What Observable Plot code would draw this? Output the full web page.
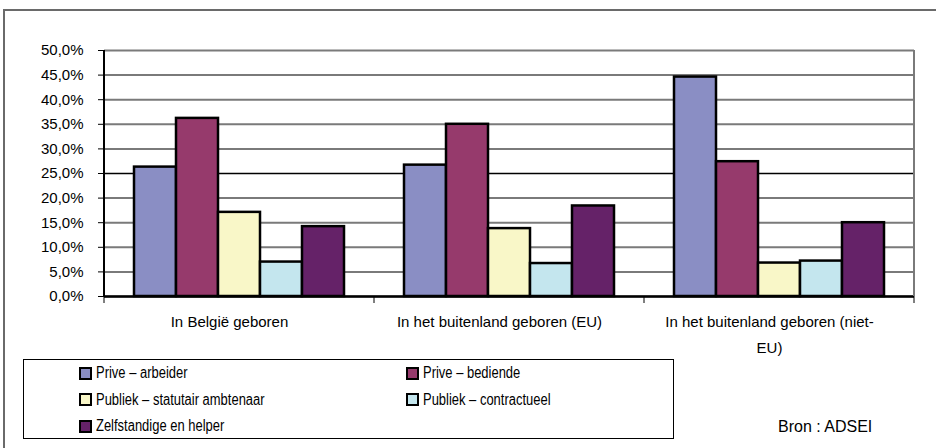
<!DOCTYPE html>
<html><head><meta charset="utf-8">
<script src="https://cdn.jsdelivr.net/npm/d3@7"></script>
<script src="https://cdn.jsdelivr.net/npm/@observablehq/plot@0.6"></script>
<style>
html,body{margin:0;padding:0;background:#fff;width:936px;height:448px;overflow:hidden;position:relative;font-family:"Liberation Sans",Arial,sans-serif;}
#frame{position:absolute;left:3px;top:9px;width:1000px;height:500px;border-left:2px solid #6a6a6a;border-top:2px solid #6a6a6a;}
#chart{position:absolute;left:0;top:0;}
#legend{position:absolute;left:23px;top:359px;width:651px;height:80px;border:1px solid #000;box-sizing:border-box;}
.item{position:absolute;height:20px;display:flex;align-items:center;font-family:"Liberation Sans",Arial,sans-serif;font-size:16px;color:#000;white-space:nowrap;}
.item .tx{display:inline-block;transform:scaleX(0.81);transform-origin:0 50%;}
.sw{width:9px;height:9px;border:2px solid #000;margin-right:4px;}
#bron{position:absolute;left:778px;top:417px;font-size:16px;line-height:20px;color:#000;}
</style></head><body>
<div id="frame"></div>
<div id="chart"></div>
<div id="legend"></div>
<div id="bron">Bron : ADSEI</div>
<script>
const categories = ["In België geboren", "In het buitenland geboren (EU)", "In het buitenland geboren (niet-EU)"];
const categoryLabels = ["In België geboren", "In het buitenland geboren (EU)", "In het buitenland geboren (niet-\nEU)"];
const series = ["Prive – arbeider", "Prive – bediende", "Publiek – statutair ambtenaar", "Publiek – contractueel", "Zelfstandige en helper"];
const colors = ["#8a8ec4", "#963a6c", "#f9f7c8", "#c4e6ee", "#652268"];
const valuesBelgie = [26.3, 36.2, 17.1, 7.0, 14.2];
const valuesEU = [26.7, 35.0, 13.8, 6.7, 18.4];
const valuesNietEU = [44.6, 27.4, 6.8, 7.2, 15.0];
const yTicks = [0, 5, 10, 15, 20, 25, 30, 35, 40, 45, 50];

const valueSets = [valuesBelgie, valuesEU, valuesNietEU];
const rows = [];
categories.forEach((c, i) => series.forEach((s, j) => rows.push({cat: c, series: s, value: valueSets[i][j]})));

const chart = Plot.plot({
  width: 936, height: 360,
  marginLeft: 104, marginRight: 22, marginTop: 50, marginBottom: 64,
  style: {fontFamily: "'Liberation Sans', Arial, sans-serif", fontSize: "15px", color: "#000", background: "transparent", overflow: "visible"},
  fx: {domain: categories, padding: 0, label: null},
  x: {domain: series, paddingInner: 0, paddingOuter: 0.714, axis: null},
  y: {domain: [0, 50], label: null},
  color: {domain: series, range: colors},
  marks: [
    Plot.ruleY(yTicks, {y: d => d, stroke: d => d === 25 ? "#000" : "#7a7a7a", strokeWidth: d => d === 25 ? 1.5 : 2}),
    Plot.barY(rows, {fx: "cat", x: "series", y: "value", fill: "series", stroke: "#000", strokeWidth: 2.5}),
    Plot.ruleY([0], {stroke: "#000", strokeWidth: 2.5}),
    Plot.axisY({ticks: yTicks, tickFormat: d => d.toFixed(1).replace(".", ",") + "%", tickSize: 6, tickPadding: 15, stroke: "#000", fill: "#000", label: null}),
    Plot.axisFx({anchor: "bottom", tickSize: 0, tickPadding: 12, lineHeight: 1.73, dx: -10, tickFormat: d => categoryLabels[categories.indexOf(d)], fill: "#000", label: null})
  ]
});
document.getElementById("chart").appendChild(chart);

// structural lines computed from the chart's own scales
const fx = chart.scale("fx"), y = chart.scale("y");
const svg = d3.select(chart.tagName.toLowerCase() === "svg" ? chart : chart.querySelector("svg"));
const g = svg.append("g");
const left = fx.apply(categories[0]);
const right = fx.apply(categories[categories.length - 1]) + fx.bandwidth;
g.append("line").attr("x1", right).attr("x2", right).attr("y1", y.apply(50)).attr("y2", y.apply(0)).attr("stroke", "#7a7a7a").attr("stroke-width", 2);
g.append("line").attr("x1", left).attr("x2", left).attr("y1", y.apply(50)).attr("y2", y.apply(0)).attr("stroke", "#000").attr("stroke-width", 2);
const bounds = categories.map(c => fx.apply(c)).concat([right]);
bounds.forEach(bx => g.append("line").attr("x1", bx).attr("x2", bx).attr("y1", y.apply(0)).attr("y2", y.apply(0) + 7).attr("stroke", "#000").attr("stroke-width", 1));

// legend
const legend = document.getElementById("legend");
series.forEach((s, i) => {
  const item = document.createElement("div");
  item.className = "item";
  item.style.left = (i % 2 === 0 ? 55 : 382) + "px";
  item.style.top = (3 + Math.floor(i / 2) * 26.5) + "px";
  const sw = document.createElement("span");
  sw.className = "sw";
  sw.style.background = colors[i];
  item.appendChild(sw);
  const tx = document.createElement("span");
  tx.className = "tx";
  tx.textContent = s;
  item.appendChild(tx);
  legend.appendChild(item);
});
</script>
</body></html>
